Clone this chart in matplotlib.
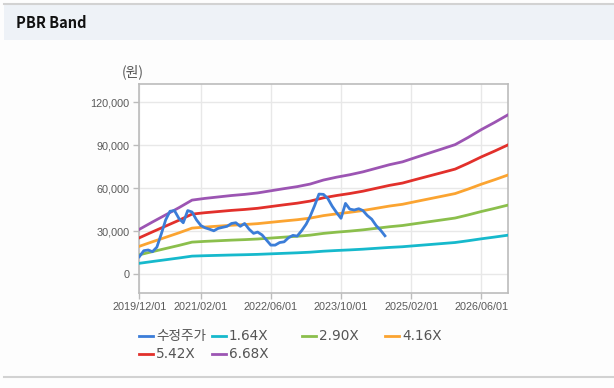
import matplotlib
matplotlib.use("Agg")
import matplotlib.pyplot as plt
from matplotlib.lines import Line2D
from matplotlib.patches import Rectangle
import pandas as pd
import numpy as np

# ---------------- data ----------------
title = "PBR Band"
unit_label = "(원)"

price_dates = pd.date_range("2019-12-01", periods=57, freq="MS")
price_values = [12300, 16500, 17000, 15800, 19000, 28000, 38000, 44000, 44500, 39000,
                36000, 44500, 43500, 38000, 34000, 32500, 31500, 30400, 32100, 32800,
                33500, 35500, 36000, 33500, 35500, 31500, 28600, 29500, 27500, 24000,
                20400, 20400, 22200, 22700, 25500, 27200, 26700, 30500, 35000, 40500,
                48000, 56000, 55800, 53000, 47500, 43000, 39100, 49500, 45500, 44900,
                45800, 44500, 41000, 38500, 34000, 30900, 26900]

bps_dates = pd.date_range("2019-12-01", periods=29, freq="3MS")
bps_values = [4701, 5464, 6213, 6961, 7754, 7934, 8084, 8234, 8353, 8503,
              8728, 8952, 9162, 9431, 9850, 10150, 10404, 10704, 11078, 11452,
              11751, 12201, 12650, 13099, 13548, 14296, 15120, 15868, 16647]

band_multipliers = [1.64, 2.90, 4.16, 5.42, 6.68]
band_labels = ["1.64X", "2.90X", "4.16X", "5.42X", "6.68X"]
price_label = "수정주가"

xtick_labels = ["2019/12/01", "2021/02/01", "2022/06/01", "2023/10/01", "2025/02/01", "2026/06/01"]
ytick_values = [0, 30000, 60000, 90000, 120000]

# ---------------- style ----------------
price_color = "#3b7dd8"
band_colors = ["#16b9cc", "#8bbf4c", "#fba431", "#e2302b", "#9c55b3"]

W, H = 614, 388
fig = plt.figure(figsize=(W / 100, H / 100), dpi=100)
fig.patch.set_facecolor("#fdfdfd")

def fx(px):
    return px / W

def fy(py):
    return 1 - py / H

# header band
fig.patches.append(Rectangle((fx(4), fy(40)), fx(W), 36 / H, transform=fig.transFigure,
                             facecolor="#eef2f7", edgecolor="none", zorder=0))
fig.add_artist(Line2D([fx(4), 1], [fy(4.3), fy(4.3)], transform=fig.transFigure,
                      color="#d2d2d2", lw=1.5))
fig.add_artist(Line2D([fx(4), 1], [fy(377.3), fy(377.3)], transform=fig.transFigure,
                      color="#d2d2d2", lw=1.5))
fig.text(fx(16.5), fy(22.5), title, fontsize=10.5, fontweight="bold", color="#111111",
         va="center", ha="left", family=["Noto Sans CJK KR", "DejaVu Sans"])

# axes
left, right, top, bottom = 139.3, 508, 84, 292.7
ax = fig.add_axes([fx(left), fy(bottom), (right - left) / W, (bottom - top) / H])
ax.set_facecolor("white")

ax.plot(price_dates, price_values, color=price_color, lw=2.0, zorder=5,
        solid_joinstyle="round")
bps = np.array(bps_values, dtype=float)
for m, c in zip(band_multipliers, band_colors):
    ax.plot(bps_dates, bps * m, color=c, lw=2.0, zorder=4)

ax.set_xlim(pd.Timestamp("2019-12-01"), pd.Timestamp("2026-12-03"))
ax.set_ylim(-12800, 132800)

xt = [pd.Timestamp(s.replace("/", "-")) for s in xtick_labels]
ax.set_xticks(xt)
ax.set_xticklabels(xtick_labels)
ax.set_yticks(ytick_values)
ax.set_yticklabels([f"{v:,}" for v in ytick_values])

ax.grid(True, color="#e8e8e8", lw=1.0)
ax.set_axisbelow(True)
for s in ax.spines.values():
    s.set_color("#bcbcbc")
    s.set_linewidth(1.2)
ax.tick_params(axis="both", colors="#bcbcbc", length=4, width=1, labelcolor="#5a5a5a",
               labelsize=7.8, pad=3)
for lab in ax.get_xticklabels() + ax.get_yticklabels():
    lab.set_family(["Liberation Sans", "DejaVu Sans"])

fig.text(fx(132.5), fy(72), unit_label, fontsize=10, color="#555555", ha="center", va="center",
         family=["Noto Sans CJK KR", "DejaVu Sans"])

# legend (manual placement to match irregular column spacing)
entries = [(price_label, price_color, 139.3, 335.7),
           (band_labels[0], band_colors[0], 211.7, 335.7),
           (band_labels[1], band_colors[1], 301.7, 335.7),
           (band_labels[2], band_colors[2], 385.0, 335.7),
           (band_labels[3], band_colors[3], 139.3, 354.0),
           (band_labels[4], band_colors[4], 211.7, 354.0)]
for text, c, x0, y0 in entries:
    fig.add_artist(Line2D([fx(x0), fx(x0 + 14)], [fy(y0), fy(y0)], transform=fig.transFigure,
                          color=c, lw=2.0))
    fig.text(fx(x0 + 17), fy(y0), text, fontsize=9.8, color="#555555", ha="left", va="center",
             family=["DejaVu Sans", "Noto Sans CJK KR"])

fig.savefig("out.png", dpi=100, facecolor=fig.get_facecolor())
